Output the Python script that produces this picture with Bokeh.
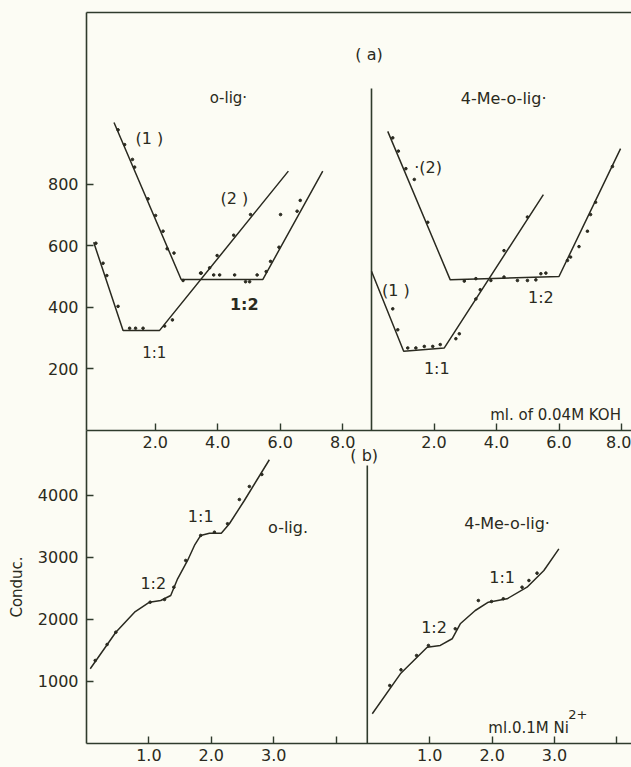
from bokeh.plotting import figure
from bokeh.models import Range1d, LinearAxis, FixedTicker, Label
from bokeh.layouts import column
from bokeh.embed import file_html
from bokeh.resources import INLINE

# ---------------- data ----------------
# (a) top panels: conductance vs ml of 0.04M KOH
tl_xticks = [2, 4, 6, 8]
tr_xticks = [2, 4, 6, 8]
top_xlabels = ["2.0", "4.0", "6.0", "8.0"]
tl_yticks = [200, 400, 600, 800]

# o-lig, curve (1)
tl1_x = [0.68, 2.83, 5.44, 7.36]
tl1_y = [1000, 490, 490, 842]
# o-lig, curve (2)
tl2_x = [0.03, 0.97, 2.14, 6.26]
tl2_y = [611, 325, 325, 842]
tl_dots_x = [0.10, 0.33, 0.45, 0.81, 1.18, 1.37, 1.61, 2.30, 2.55, 3.47, 3.74, 3.98, 4.51, 5.05,
             0.81, 1.02, 1.27, 1.34, 1.77, 2.01, 2.25, 2.38, 2.60, 2.89, 3.45, 3.87, 4.06, 4.54,
             4.89, 5.02, 5.26, 5.55, 5.69, 5.96, 6.01, 6.54, 6.64]
tl_dots_y = [608, 543, 503, 403, 332, 332, 332, 339, 359, 511, 528, 568, 634, 701,
             976, 928, 880, 855, 752, 698, 647, 590, 576, 487, 511, 505, 505, 505,
             483, 483, 505, 516, 549, 595, 701, 712, 747]

# 4-Me-o-lig, curve (2)
tr2_x = [0.52, 2.52, 6.00, 7.97]
tr2_y = [971, 489, 500, 915]
# 4-Me-o-lig, curve (1)
tr1_x = [0.00, 1.03, 2.33, 5.50]
tr1_y = [517, 257, 268, 766]
tr_dots_x = [0.68, 0.86, 1.10, 1.37, 1.80, 2.97, 3.34, 3.82, 4.24, 4.67, 4.99, 5.26, 5.42, 5.58,
             6.27, 6.37, 6.64, 6.91, 7.01, 7.17, 7.71,
             0.68, 0.84, 1.16, 1.42, 1.69, 1.96, 2.20, 2.70, 2.81, 3.34, 3.48, 4.24, 4.99]
tr_dots_y = [950, 907, 850, 815, 676, 485, 493, 487, 498, 487, 487, 489, 509, 511,
             552, 563, 597, 647, 701, 741, 857,
             395, 327, 268, 268, 273, 273, 279, 298, 314, 427, 457, 584, 693]

# (b) bottom panels: conductance vs ml of 0.1M Ni2+
bl_xticks = [1, 2, 3, 4]
br_xticks = [1, 2, 3, 4]
bot_xlabels = ["1.0", "2.0", "3.0", ""]
bl_yticks = [1000, 2000, 3000, 4000]

bl_x = [0.06, 0.47, 0.77, 1.01, 1.19, 1.35, 1.46, 1.62, 1.73, 1.83, 1.97, 2.16, 2.29, 2.53, 2.93]
bl_y = [1205, 1795, 2118, 2279, 2306, 2387, 2656, 2952, 3194, 3355, 3392, 3392, 3544, 3919, 4576]
bl_dots_x = [0.14, 0.33, 0.47, 1.02, 1.25, 1.40, 1.59, 1.83, 2.05, 2.26, 2.45, 2.61, 2.81]
bl_dots_y = [1339, 1597, 1795, 2279, 2323, 2521, 2952, 3355, 3408, 3544, 3935, 4145, 4339]

br_x = [0.08, 0.53, 0.96, 1.17, 1.36, 1.49, 1.73, 1.94, 2.24, 2.56, 2.83, 3.07]
br_y = [479, 1124, 1553, 1581, 1689, 1931, 2145, 2279, 2334, 2521, 2790, 3140]
br_dots_x = [0.36, 0.54, 0.79, 0.98, 1.41, 1.78, 1.99, 2.18, 2.48, 2.59, 2.72]
br_dots_y = [935, 1188, 1419, 1581, 1850, 2306, 2290, 2334, 2521, 2629, 2747]

# ---------------- style ----------------
INK = "#2a2a20"
AX = "#2f3b2c"
BG = "#fcfcf4"
FONT = "DejaVu Sans"

TL_RANGE = (-0.2, 17.24)
TR_OFF = 8.92
TOP_Y = (0, 1357)
TR_AXIS_TOP = 1110

BL_RANGE = (0, 8.734)
BR_OFF = 4.5
BOT_Y = (0, 5048)
BR_AXIS_TOP = 4484


def axis_style(ax, font_size="16px"):
    ax.axis_line_color = AX
    ax.axis_line_width = 1.6
    ax.major_tick_line_color = AX
    ax.major_tick_line_width = 1.4
    ax.major_tick_in = 7
    ax.major_tick_out = 0
    ax.minor_tick_line_color = None
    ax.major_label_text_font = FONT
    ax.major_label_text_font_size = font_size
    ax.major_label_text_color = INK


def add_label(p, x, y, text, size="15px", style="normal", rng="default", align="center"):
    lab = Label(x=x, y=y, text=text, text_font=FONT, text_font_size=size,
                text_font_style=style, text_color=INK, text_align=align,
                text_baseline="middle", x_range_name=rng)
    p.add_layout(lab)


# ---------------- top figure: (a) ----------------
top = figure(width=631, height=455, x_range=Range1d(*TL_RANGE), y_range=Range1d(*TOP_Y),
             x_axis_type=None, y_axis_type=None, output_backend="svg", toolbar_location=None,
             min_border_left=85, min_border_right=0, min_border_top=12, min_border_bottom=25,
             background_fill_color=None, border_fill_color=None, outline_line_color=None)
top.extra_x_ranges = {"tr": Range1d(TL_RANGE[0] - TR_OFF, TL_RANGE[1] - TR_OFF)}

ya = LinearAxis(ticker=FixedTicker(ticks=tl_yticks), major_label_standoff=8)
axis_style(ya)
top.add_layout(ya, "left")

top_ticks = list(tl_xticks) + [t + TR_OFF for t in tr_xticks]
top_over = {}
for t, s in zip(tl_xticks, top_xlabels):
    top_over[t] = s
for t, s in zip(tr_xticks, top_xlabels):
    top_over[t + TR_OFF] = s
xa = LinearAxis(ticker=FixedTicker(ticks=top_ticks), major_label_overrides=top_over,
                major_label_standoff=5)
axis_style(xa)
top.add_layout(xa, "below")

frame_top = LinearAxis(ticker=FixedTicker(ticks=[]), major_label_text_font_size="0px",
                       major_label_standoff=0, major_tick_in=0, major_tick_out=0,
                       axis_line_color=AX, axis_line_width=1.4)
top.add_layout(frame_top, "above")

top.segment(x0=[0], y0=[0], x1=[0], y1=[TR_AXIS_TOP], x_range_name="tr",
            line_color=AX, line_width=1.6)

top.line(tl1_x, tl1_y, line_color=INK, line_width=1.5)
top.line(tl2_x, tl2_y, line_color=INK, line_width=1.5)
top.scatter(tl_dots_x, tl_dots_y, size=2.6, color=INK)
top.line(tr2_x, tr2_y, line_color=INK, line_width=1.5, x_range_name="tr")
top.line(tr1_x, tr1_y, line_color=INK, line_width=1.5, x_range_name="tr")
top.scatter(tr_dots_x, tr_dots_y, size=2.6, color=INK, x_range_name="tr")

add_label(top, -0.08, 1221, "( a)", size="16px", rng="tr")
add_label(top, 4.34, 1078, "o-lig·")
add_label(top, 1.81, 948, "(1 )", size="16px")
add_label(top, 4.53, 753, "(2 )", size="16px")
add_label(top, 4.85, 409, "1:2", size="16px", style="bold")
add_label(top, 1.97, 253, "1:1")
add_label(top, 4.23, 1078, "4-Me-o-lig·", size="16px", rng="tr")
add_label(top, 1.81, 854, "·(2)", size="16px", rng="tr")
add_label(top, 0.78, 455, "(1 )", size="16px", rng="tr")
add_label(top, 5.42, 432, "1:2", size="16px", rng="tr")
add_label(top, 2.09, 201, "1:1", size="16px", rng="tr")
add_label(top, 5.89, 49, "ml. of 0.04M KOH", size="15px", rng="tr")

# ---------------- bottom figure: (b) ----------------
bot = figure(width=631, height=337, x_range=Range1d(*BL_RANGE), y_range=Range1d(*BOT_Y),
             x_axis_type=None, y_axis_type=None, output_backend="svg", toolbar_location=None,
             min_border_left=86, min_border_right=0, min_border_top=0, min_border_bottom=24,
             background_fill_color=None, border_fill_color=None, outline_line_color=None,
             margin=(-25, 0, 0, 0))
bot.extra_x_ranges = {"br": Range1d(BL_RANGE[0] - BR_OFF, BL_RANGE[1] - BR_OFF)}

yb = LinearAxis(ticker=FixedTicker(ticks=bl_yticks), major_label_standoff=8,
                axis_label="Conduc.", axis_label_text_font=FONT,
                axis_label_text_font_size="15px", axis_label_text_font_style="normal",
                axis_label_text_color=INK, axis_label_standoff=9)
axis_style(yb)
bot.add_layout(yb, "left")

bot_ticks = list(bl_xticks) + [t + BR_OFF for t in br_xticks]
bot_over = {}
for t, s in zip(bl_xticks, bot_xlabels):
    bot_over[t] = s
for t, s in zip(br_xticks, bot_xlabels):
    bot_over[t + BR_OFF] = s
xb = LinearAxis(ticker=FixedTicker(ticks=bot_ticks), major_label_overrides=bot_over,
                major_label_standoff=5)
axis_style(xb)
bot.add_layout(xb, "below")

bot.segment(x0=[0], y0=[0], x1=[0], y1=[BR_AXIS_TOP], x_range_name="br",
            line_color=AX, line_width=1.6)

bot.line(bl_x, bl_y, line_color=INK, line_width=1.5)
bot.scatter(bl_dots_x, bl_dots_y, size=2.6, color=INK)
bot.line(br_x, br_y, line_color=INK, line_width=1.5, x_range_name="br")
bot.scatter(br_dots_x, br_dots_y, size=2.6, color=INK, x_range_name="br")

add_label(bot, -0.05, 4645, "( b)", size="16px", rng="br")
add_label(bot, 3.23, 3484, "o-lig.", size="16px")
add_label(bot, 1.83, 3661, "1:1", size="16px")
add_label(bot, 1.07, 2581, "1:2", size="16px")
add_label(bot, 2.24, 3548, "4-Me-o-lig·", size="16px", rng="br")
add_label(bot, 2.16, 2677, "1:1", size="16px", rng="br")
add_label(bot, 1.07, 1871, "1:2", size="16px", rng="br")
add_label(bot, 1.94, 258, "ml.0.1M  Ni", size="15px", rng="br", align="left")
add_label(bot, 3.22, 470, "2+", size="13px", rng="br", align="left")

layout = column(top, bot, styles={"background-color": BG})

open("out.html", "w").write(file_html(layout, INLINE))
